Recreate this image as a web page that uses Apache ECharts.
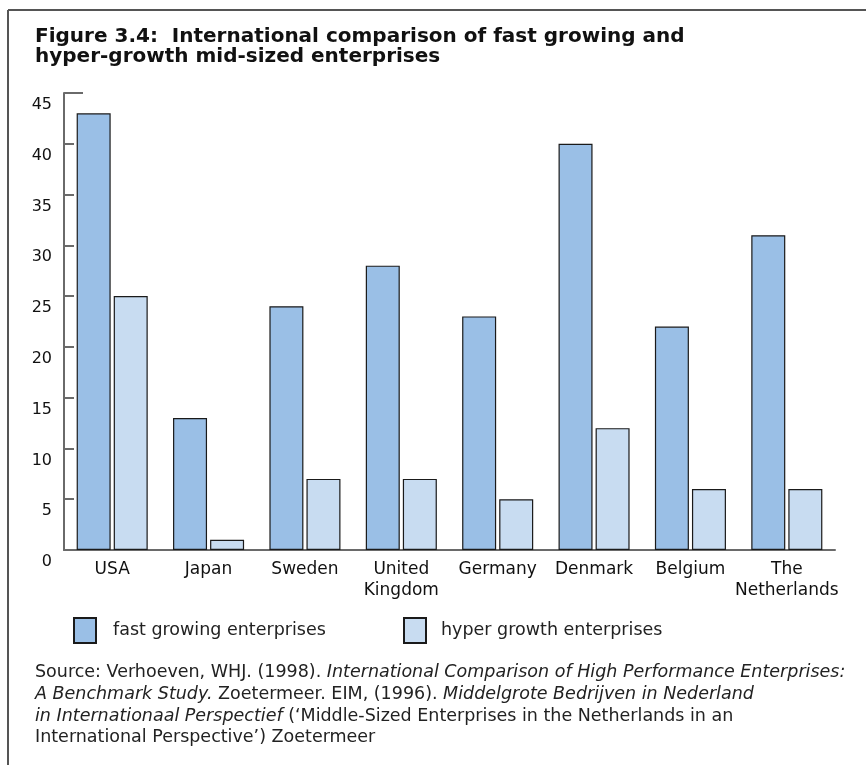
<!DOCTYPE html>
<html><head><meta charset="utf-8">
<script src="https://cdn.jsdelivr.net/npm/echarts@6/dist/echarts.min.js"></script>
<style>html,body{margin:0;padding:0;background:#fff}#c{width:866px;height:765px}</style>
</head><body><div id="c"></div>
<script>
const categories = ['USA','Japan','Sweden','United\nKingdom','Germany','Denmark','Belgium','The\nNetherlands'];
const fastGrowing = [43,13,24,28,23,40,22,31];
const hyperGrowth = [25,1,7,7,5,12,6,6];
const yTicks = [0,45,5];
const seriesNames = ['fast growing enterprises','hyper growth enterprises'];
const titleLines = 'Figure 3.4:  International comparison of fast growing and\nhyper-growth mid-sized enterprises';

const sans = '"DejaVu Sans",Verdana,sans-serif';
const chart = echarts.init(document.getElementById('c'), null, {renderer:'canvas'});
const axisCol = '#6a6a6a';
chart.setOption({
  animation:false,
  backgroundColor:'#fff',
  title:{text:titleLines,left:35,top:27,padding:0,textStyle:{fontFamily:sans,fontWeight:'bold',fontSize:20,color:'#111',lineHeight:20}},
  grid:{left:64,right:31,top:93,bottom:215},
  legend:[
    {data:[seriesNames[0]],left:73,top:617,padding:0,itemWidth:22,itemHeight:25,icon:'rect',textStyle:{fontFamily:sans,fontSize:17.5,color:'#222',padding:[0,0,0,12]}},
    {data:[seriesNames[1]],left:403,top:617,padding:0,itemWidth:22,itemHeight:25,icon:'rect',textStyle:{fontFamily:sans,fontSize:17.5,color:'#222',padding:[0,0,0,10]}}
  ],
  xAxis:{type:'category',data:categories,
    axisLine:{lineStyle:{color:axisCol,width:2}},
    axisTick:{inside:true,length:10,lineStyle:{color:axisCol,width:2},interval:0},
    axisLabel:{interval:0,margin:9,fontFamily:sans,fontSize:17,color:'#111',lineHeight:21}},
  yAxis:{type:'value',min:yTicks[0],max:yTicks[1],interval:yTicks[2],
    splitLine:{show:false},
    axisLine:{show:true,lineStyle:{color:axisCol,width:2}},
    axisTick:{show:true,inside:true,length:10,lineStyle:{color:axisCol,width:2}},
    axisLabel:{margin:12,fontFamily:sans,fontSize:16,color:'#111',verticalAlign:'top',padding:[4,0,0,0]}},
  series:[
    {name:seriesNames[0],type:'bar',data:fastGrowing,barWidth:34,barGap:'9%',
      itemStyle:{color:'#9abfe6',borderColor:'#1a1a1a',borderWidth:1.2}},
    {name:seriesNames[1],type:'bar',data:hyperGrowth,barWidth:34,barGap:'9%',
      itemStyle:{color:'#c8dcf1',borderColor:'#1a1a1a',borderWidth:1.2}}
  ]
});
// extended top tick of the value axis, via the axis scale
const yTop = chart.convertToPixel({yAxisIndex:0}, yTicks[1]);
chart.setOption({graphic:[
  {id:'frameTop',type:'line',shape:{x1:8,y1:10,x2:866,y2:10},style:{stroke:'#555',lineWidth:2}},
  {id:'frameLeft',type:'line',shape:{x1:8,y1:10,x2:8,y2:765},style:{stroke:'#555',lineWidth:2}},
  {id:'topTick',type:'line',shape:{x1:64,y1:yTop,x2:83,y2:yTop},style:{stroke:axisCol,lineWidth:2}},
  {id:'source',type:'text',left:35,top:662,style:{
    text:'Source: Verhoeven, WHJ. (1998). {i|International Comparison of High Performance Enterprises:}\n{i|A Benchmark Study.} Zoetermeer. EIM, (1996). {i|Middelgrote Bedrijven in Nederland}\n{i|in Internationaal Perspectief} (‘Middle-Sized Enterprises in the Netherlands in an\nInternational Perspective’) Zoetermeer',
    font:'17.5px '+sans,fill:'#222',lineHeight:21.7,
    rich:{i:{fontStyle:'italic',fontFamily:sans,fontSize:17.5,fill:'#222',lineHeight:21.7}}}}
]});
</script></body></html>
